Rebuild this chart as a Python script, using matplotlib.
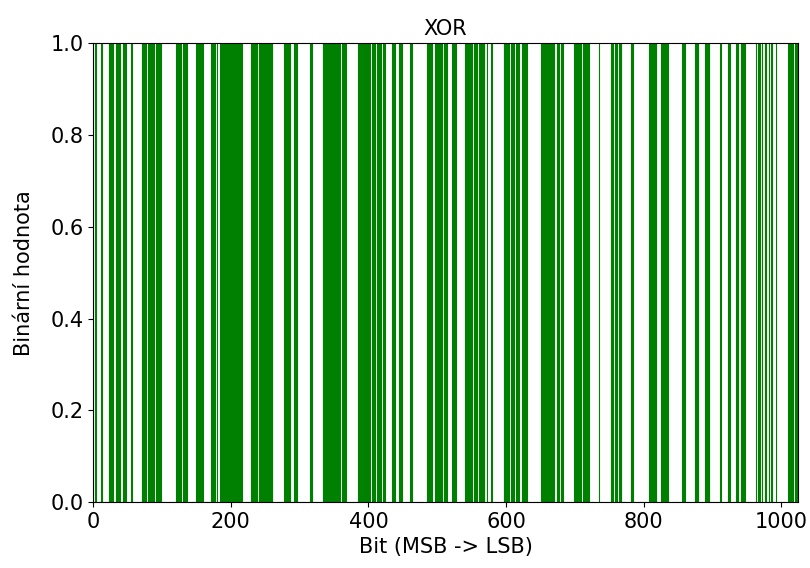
import numpy as np
import matplotlib.pyplot as plt

n_bits = 1024

# indices of bits that are 1 in the XOR result (MSB first)
ones = [3, 4, 12, 23, 24, 25, 26, 27, 28, 33, 34, 35, 36, 37, 38, 44, 47, 56,
        71, 72, 73, 74, 75, 76, 80, 81, 82, 83, 85, 86, 87, 88, 92, 93, 94, 95, 96, 97, 98,
        121, 122, 123, 124, 125, 126, 127, 131, 132, 133, 134, 135, 136,
        150, 151, 152, 153, 154, 155, 156, 157, 158, 159, 172, 173, 174, 175, 176, 180,
        185, 186, 187, 188, 189, 190, 191, 192, 193, 194, 195, 196, 197, 198, 199, 200,
        201, 202, 203, 204, 205, 206, 207, 208, 209, 210, 211, 212, 213, 214, 215, 216,
        230, 231, 232, 233, 234, 235, 236, 237, 238,
        241, 242, 244, 245, 246, 247, 248, 249, 250, 251, 252, 253, 254, 255, 256, 257, 258, 259, 260,
        278, 279, 280, 281, 282, 283, 284, 285, 286, 292, 293, 294, 295, 296, 316, 317,
        334, 335, 336, 337, 338, 339, 340, 341, 342, 345, 346, 347, 348, 349,
        352, 353, 354, 355, 356, 357, 358, 362, 363, 364, 365, 366, 367,
        385, 386, 387, 388, 389, 390, 391, 392, 393, 395, 396, 397, 398, 399, 400, 401, 402,
        406, 407, 408, 409, 413, 414, 415, 416, 417, 418, 422, 423, 435, 436, 437, 438,
        445, 446, 447, 448, 461, 462, 463, 486, 487, 488, 489, 490, 491, 492,
        497, 498, 499, 500, 501, 502, 503, 504, 505, 506, 507, 510, 511, 512, 513, 514,
        522, 523, 524, 525, 526, 527, 541, 542, 543, 544, 545, 546, 547, 548, 549, 550,
        554, 555, 556, 557, 561, 562, 563, 564, 565, 566, 567, 568, 572, 579,
        597, 598, 599, 600, 601, 602, 603, 604, 608, 609, 610, 611, 615, 616, 617, 618,
        624, 625, 626, 627, 628, 629, 630, 651, 652, 653, 654, 655, 656, 657, 658,
        660, 661, 662, 663, 664, 665, 666, 667, 668, 669, 674, 675, 676, 680, 681, 682,
        699, 700, 701, 702, 703, 704, 705, 706, 707, 708, 709,
        712, 713, 714, 715, 716, 717, 718, 719, 720, 735, 753, 754, 755, 759, 760, 761,
        765, 766, 767, 782, 783, 784, 808, 809, 810, 811, 812, 813, 814, 815, 816, 817, 818,
        826, 827, 828, 830, 831, 832, 833, 834, 835, 856, 857, 858, 859,
        875, 876, 877, 878, 879, 890, 891, 892, 893, 894, 895, 912, 923, 924, 925,
        935, 936, 937, 942, 943, 944, 945, 946, 947, 963, 967, 968, 972, 977, 982, 986, 992,
        1010, 1011, 1012, 1013, 1014, 1015, 1016, 1020, 1021, 1022, 1023]

bits = np.zeros(n_bits)
bits[ones] = 1

plt.rcParams['font.size'] = 15

fig = plt.figure(figsize=(8.1, 5.68), dpi=100)
ax = fig.add_axes([0.115, 0.116, 0.87, 0.808])
ax.bar(np.arange(n_bits), bits, color='green', edgecolor='green', linewidth=0.8)
ax.set_xlim(0, n_bits)
ax.set_ylim(0, 1)
ax.set_title('XOR', fontsize=15)
ax.set_xlabel('Bit (MSB -> LSB)')
ax.set_ylabel('Binární hodnota', labelpad=12)

fig.savefig('out.png')
